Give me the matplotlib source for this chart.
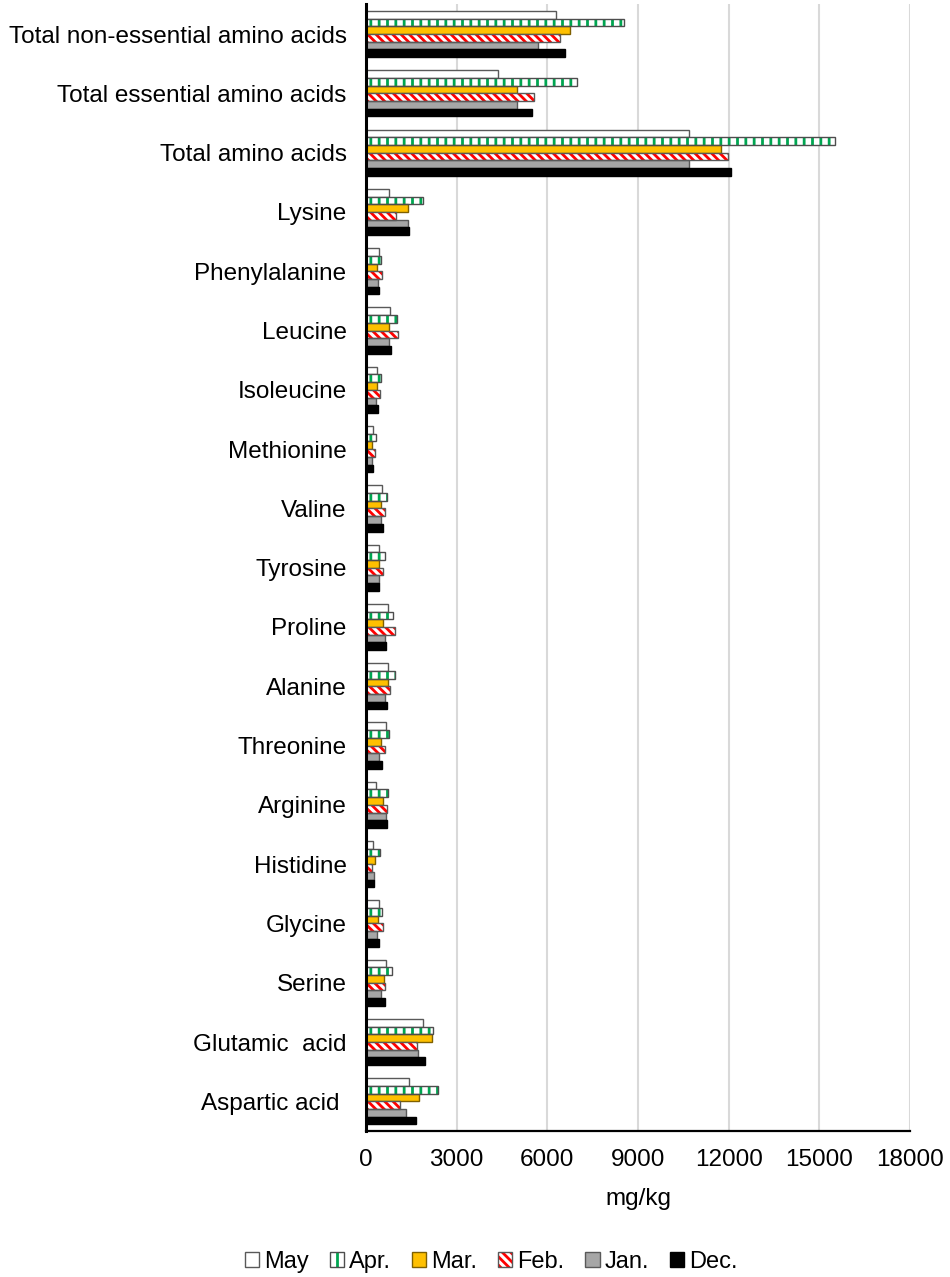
import matplotlib
matplotlib.use('Agg')
import matplotlib.pyplot as plt
import numpy as np

plt.rcParams['font.family'] = ['Liberation Sans', 'DejaVu Sans']
plt.rcParams['hatch.linewidth'] = 2.0

# ======
# data (mg/kg), categories from bottom to top
# ======
categories = [
    'Aspartic acid ', 'Glutamic  acid', 'Serine', 'Glycine', 'Histidine',
    'Arginine', 'Threonine', 'Alanine', 'Proline', 'Tyrosine', 'Valine',
    'Methionine', 'Isoleucine', 'Leucine', 'Phenylalanine', 'Lysine',
    'Total amino acids', 'Total essential amino acids',
    'Total non-essential amino acids',
]

may = [1410, 1900, 670, 440, 243, 320, 670, 740, 740, 430, 540,
       243, 375, 780, 440, 750, 10690, 4370, 6300]
apr = [2380, 2230, 870, 540, 475, 740, 770, 970, 905, 640, 705,
       340, 510, 1040, 510, 1900, 15520, 6990, 8550]
mar = [1765, 2195, 605, 408, 310, 575, 495, 740, 575, 440, 505,
       210, 375, 750, 375, 1390, 11750, 4985, 6760]
feb = [1115, 1700, 640, 575, 210, 705, 630, 805, 970, 575, 630,
       310, 450, 1060, 530, 990, 11990, 5570, 6430]
jan = [1335, 1730, 505, 375, 265, 670, 440, 620, 640, 440, 505,
       210, 340, 750, 400, 1390, 10700, 4985, 5700]
dec = [1665, 1965, 630, 430, 265, 705, 540, 705, 660, 430, 563,
       243, 385, 840, 420, 1430, 12080, 5500, 6570]

series_names = ['May', 'Apr.', 'Mar.', 'Feb.', 'Jan.', 'Dec.']
series_vals = [may, apr, mar, feb, jan, dec]

# style per series: (facecolor, hatchcolor, hatch, outline)
styles = [
    ('white', None, None, '#595959'),
    ('white', '#00A651', '||', '#4D4D4D'),
    ('#FFC000', None, None, '#7F6000'),
    ('white', '#FF0000', '\\\\\\\\', '#595959'),
    ('#A6A6A6', None, None, '#595959'),
    ('black', None, None, 'black'),
]

# ======
# plot
# ======
fig = plt.figure(figsize=(9.5, 12.77), dpi=100)
ax = fig.add_axes([366/950, 146/1277, 544/950, 1126.6/1277])

y = np.arange(len(categories))
h = 0.13
handles = []
for j, (name, vals) in enumerate(zip(series_names, series_vals)):
    fc, hc, hatch, oc = styles[j]
    offset = (2.5 - j) * h
    if hatch:
        # hatch layer, then outline on top
        b1 = ax.barh(y + offset, vals, height=h, color=fc, edgecolor=hc,
                     hatch=hatch, linewidth=0, zorder=3)
        b2 = ax.barh(y + offset, vals, height=h, fill=False, edgecolor=oc,
                     linewidth=1.0, zorder=4)
        handles.append((b1[0], b2[0]))
    else:
        b1 = ax.barh(y + offset, vals, height=h, color=fc, edgecolor=oc,
                     linewidth=1.0, zorder=3)
        handles.append(b1[0])

ax.set_ylim(-0.5, len(categories) - 0.5)
ax.set_xlim(0, 18000)
ax.set_xticks(np.arange(0, 18001, 3000))
ax.set_yticks(y)
ax.set_yticklabels(categories)
ax.tick_params(axis='both', length=0, labelsize=17.5)
ax.tick_params(axis='y', pad=14)
ax.tick_params(axis='x', pad=13)

ax.grid(axis='x', color='#D9D9D9', linewidth=1.5, zorder=0)
ax.set_axisbelow(True)
for s in ['top', 'right']:
    ax.spines[s].set_visible(False)
ax.spines['left'].set_linewidth(2.2)
ax.spines['left'].set_zorder(5)
ax.spines['bottom'].set_linewidth(1.6)

ax.set_xlabel('mg/kg', fontsize=17.5, labelpad=12)

fig.legend(handles, series_names, loc='center', bbox_to_anchor=(0.517, 0.012),
           ncol=6, frameon=False, fontsize=17, handlelength=0.6,
           handleheight=0.6, handletextpad=0.2, columnspacing=0.9)

fig.savefig('out.png', dpi=100)
